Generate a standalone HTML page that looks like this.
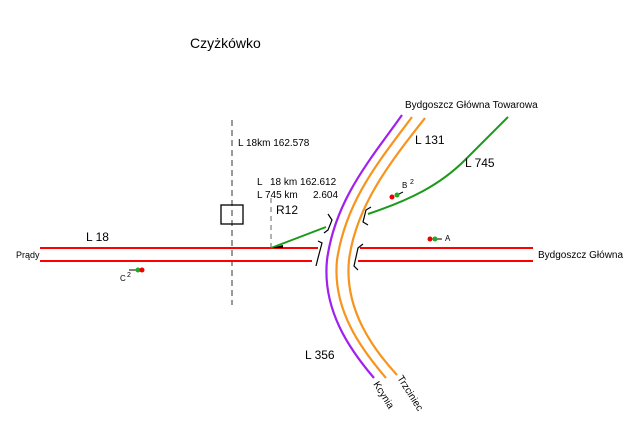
<!DOCTYPE html>
<html><head><meta charset="utf-8"><style>
html,body{margin:0;padding:0;background:#fff;width:641px;height:438px;overflow:hidden}
text{font-family:"Liberation Sans",sans-serif;fill:#000;white-space:pre}
</style></head><body>
<svg width="641" height="438" viewBox="0 0 641 438" xmlns="http://www.w3.org/2000/svg">
<text x="190" y="48" font-size="14">Czyżkówko</text>
<line x1="232" y1="120" x2="232" y2="305" stroke="#999" stroke-width="2" stroke-dasharray="6,4"/>
<line x1="271" y1="198" x2="271" y2="248" stroke="#999" stroke-width="1.5" stroke-dasharray="5,4"/>
<rect x="221" y="205" width="22" height="19" fill="none" stroke="#000" stroke-width="1.3"/>
<g stroke="#f00" stroke-width="2">
<line x1="40" y1="248" x2="318" y2="248"/>
<line x1="40" y1="261" x2="312" y2="261"/>
<line x1="360" y1="248" x2="533" y2="248"/>
<line x1="358" y1="261" x2="533" y2="261"/>
</g>
<line x1="271" y1="248" x2="326" y2="227" stroke="#1a9a1a" stroke-width="2"/>
<polygon points="272,248 283,245 283,248" fill="#000"/>
<path d="M402,115 C370,160 335,200 327,260 C322,310 350,350 374,378" fill="none" stroke="#a020f0" stroke-width="2.2"/>
<path d="M412,117 C380,160 346,200 337,260 C332,310 362,350 386,378" fill="none" stroke="#f7941d" stroke-width="2.2"/>
<path d="M425,118 C392,160 356,205 349,260 C344,310 374,350 397,375" fill="none" stroke="#f7941d" stroke-width="2.2"/>
<path d="M368,214 C410,200 440,185 465,160 C480,145 495,130 508,117" fill="none" stroke="#1a9a1a" stroke-width="2"/>
<g fill="none" stroke="#000" stroke-width="1.2">
<polyline points="328,214 332,220 328,230 324,233"/>
<polyline points="318,241 322,243 318,258 316,266"/>
<polyline points="371,207 366,210 363,222 368,225"/>
<polyline points="363,244 358,248 354,266 358,270"/>
</g>
<line x1="397" y1="195" x2="403" y2="192" stroke="#000" stroke-width="1"/>
<circle cx="392" cy="197" r="2.5" fill="#e00"/><circle cx="397" cy="195" r="2.5" fill="#2a2"/>
<line x1="435" y1="239" x2="442" y2="239" stroke="#000" stroke-width="1"/>
<circle cx="430" cy="239" r="2.5" fill="#e00"/><circle cx="435" cy="239" r="2.5" fill="#2a2"/>
<line x1="129" y1="270" x2="137" y2="270" stroke="#000" stroke-width="1"/>
<circle cx="138" cy="270" r="2.5" fill="#2a2"/><circle cx="142" cy="270" r="2.5" fill="#e00"/>
<text x="405" y="108" font-size="10">Bydgoszcz Główna Towarowa</text>
<text x="415" y="144" font-size="12">L 131</text>
<text x="465" y="167" font-size="12">L 745</text>
<text x="238" y="146" font-size="10">L 18km 162.578</text>
<text x="257" y="185" font-size="10">L</text>
<text x="270" y="185" font-size="10">18 km 162.612</text>
<text x="257" y="198" font-size="10">L 745 km</text>
<text x="313" y="198" font-size="10">2.604</text>
<text x="276" y="214" font-size="12">R12</text>
<text x="86" y="241" font-size="12">L 18</text>
<text x="16" y="258" font-size="9">Prądy</text>
<text x="538" y="258" font-size="10">Bydgoszcz Główna</text>
<text x="402" y="188" font-size="8">B</text><text x="410" y="184" font-size="7">2</text>
<text x="445" y="241" font-size="8">A</text>
<text x="120" y="281" font-size="8">C</text><text x="127" y="277" font-size="7">2</text>
<text x="305" y="359" font-size="12">L 356</text>
<text transform="translate(373,384) rotate(58)" font-size="10">Kcynia</text>
<text transform="translate(397,378) rotate(58)" font-size="10">Trzciniec</text>
</svg>
</body></html>
